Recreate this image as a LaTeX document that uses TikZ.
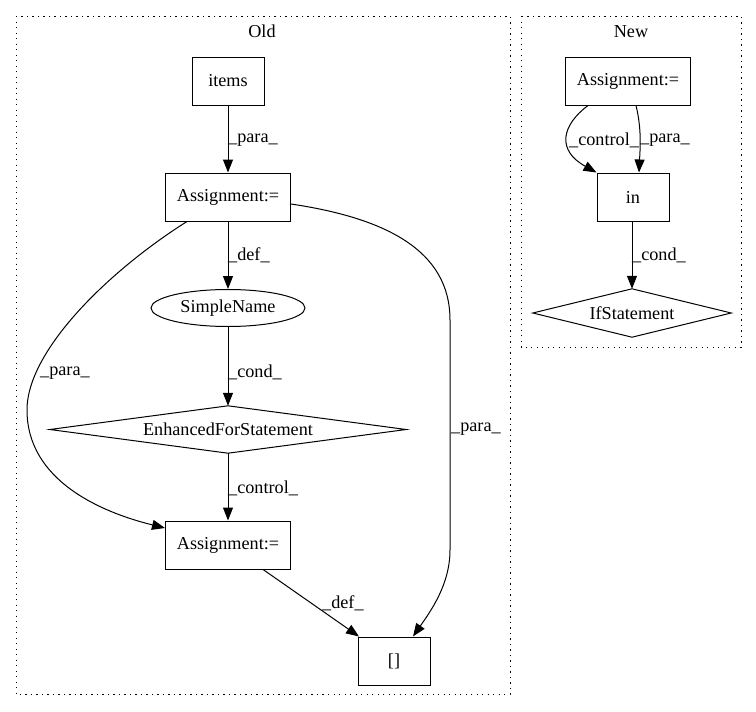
\documentclass[tikz,border=0pt]{standalone}
\usepackage{fontspec}
\setmainfont{Liberation Serif}
\usetikzlibrary{shapes.geometric,arrows.meta,calc}
\begin{document}
\begin{tikzpicture}[x=1pt,y=-1pt,
  every node/.style={font=\fontsize{18.2}{21}\selectfont},
  box/.style={draw,line width=1pt,rectangle,minimum height=48pt,inner sep=0pt},
  oval/.style={draw,line width=1pt,ellipse,minimum width=154pt,minimum height=37pt,inner sep=0pt},
  diabox/.style={rectangle,inner sep=0pt},
  cluster/.style={draw,line width=1pt,dash pattern=on 1.3pt off 4.2pt},
  edge/.style={draw,line width=1pt,-{Triangle[length=13pt,width=10pt]}},
  lbl/.style={anchor=west,inner sep=0pt}]
\useasboundingbox (0,0) rectangle (756,712);
% clusters
\draw[cluster] (16,16) rectangle (510,694);
\draw[cluster] (521,16) rectangle (741,347);
\node (told) at (262,31) {Old};
\node (tnew) at (631,32) {New};
% Old nodes
\node[box,minimum width=72pt] (items) at (228,81) {items};
\node[box,minimum width=125pt] (a1) at (228,197) {Assignment:=};
\node[oval] (sn) at (228,308) {SimpleName};
\node[diabox,minimum width=356pt,minimum height=47pt] (efs) at (228,429.5) {EnhancedForStatement};
\draw[line width=1pt] (efs.north) -- (efs.east) -- (efs.south) -- (efs.west) -- cycle;
\node[box,minimum width=125pt] (a2) at (228,545) {Assignment:=};
\node[box,minimum width=72pt] (br) at (394,661) {[]};
% New nodes
\node[box,minimum width=125pt] (na) at (628,81) {Assignment:=};
\node[box,minimum width=72pt] (nin) at (633,197) {in};
\node[diabox,minimum width=198pt,minimum height=48pt] (ifs) at (632,313) {IfStatement};
\draw[line width=1pt] (ifs.north) -- (ifs.east) -- (ifs.south) -- (ifs.west) -- cycle;
% Old edges
\draw[edge] (items) -- (a1);
\node[lbl] at (228,140) {\_para\_};
\draw[edge] (a1) -- (sn);
\node[lbl] at (228,255) {\_def\_};
\draw[edge] (sn) -- (efs.north);
\node[lbl] at (228,372) {\_cond\_};
\draw[edge] (efs.south) -- (a2);
\node[lbl] at (228,488) {\_control\_};
\draw[edge] ($(a1.south west)+(22,0)$) .. controls (110,270) and (27,350) .. (27,410)
  .. controls (27,480) and (100,512) .. (a2.west |- 0,528);
\node[lbl] at (40,373) {\_para\_};
\draw[edge] ($(a1.east)+(0,7)$) .. controls (385,218) and (450,250) .. (450,320)
  -- (450,550) .. controls (450,585) and (430,612) .. ($(br.north)+(19,0)$);
\node[lbl] at (451,429) {\_para\_};
\draw[edge] (a2) -- (br);
\node[lbl] at (322,603) {\_def\_};
% New edges
\draw[edge] ($(na.south)+(-40,0)$) .. controls (562,125) and (556,150) .. (nin.north west);
\node[lbl] at (569,140) {\_control\_};
\draw[edge] ($(na.south)+(8,0)$) .. controls (642,130) and (640,150) .. ($(nin.north)+(6,0)$);
\node[lbl] at (640,140) {\_para\_};
\draw[edge] (nin.south -| ifs.north) -- (ifs.north);
\node[lbl] at (632,255) {\_cond\_};
\end{tikzpicture}
\end{document}
